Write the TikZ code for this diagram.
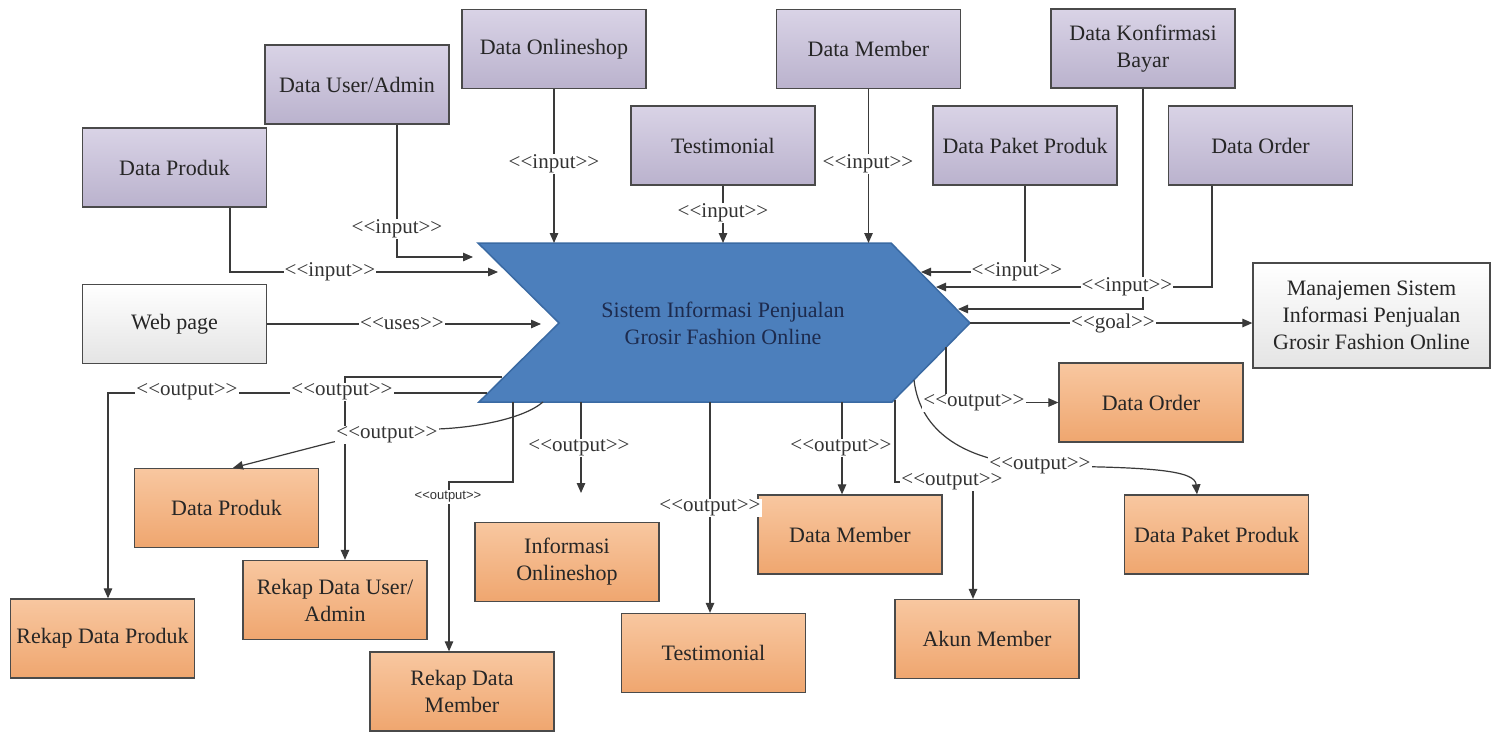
\documentclass[tikz,border=0pt]{standalone}
\usepackage{fontspec}
\setmainfont{Liberation Serif}[Ligatures=TeXOff]
\newfontfamily\dgTinySans{Liberation Sans}[Ligatures=TeXOff]
\usetikzlibrary{arrows.meta}

\definecolor{lineC}{HTML}{3A3A3A}
\definecolor{boxLine}{HTML}{4A4A4A}
\definecolor{boxText}{HTML}{262626}
\definecolor{lblC}{HTML}{333333}
\definecolor{inTop}{HTML}{D9D3E6}
\definecolor{inBot}{HTML}{BAB2CD}
\definecolor{outTop}{HTML}{F8C7A0}
\definecolor{outBot}{HTML}{EFA66F}
\definecolor{plainBot}{HTML}{E4E4E4}
\definecolor{chevFill}{HTML}{4C7FBC}
\definecolor{chevLine}{HTML}{3A6AA3}
\definecolor{chevText}{HTML}{1D2B4E}

\newcommand\dgBoxFont{\fontsize{22}{27}\selectfont}
\newcommand\dgLblFont{\fontsize{21}{23}\selectfont}
\newcommand\dgSmallFont{\dgTinySans\fontsize{13}{14}\selectfont}

\begin{document}
\begin{tikzpicture}[x=1pt,y=-1pt,
  box/.style={draw=boxLine, line width=1.3pt, minimum width=184pt, minimum height=79pt,
              align=center, font=\dgBoxFont, text=boxText, inner sep=2pt},
  inbox/.style={box, top color=inTop, bottom color=inBot},
  outbox/.style={box, top color=outTop, bottom color=outBot},
  plainbox/.style={box, top color=white, bottom color=plainBot},
  conn/.style={draw=lineC, line width=1.2pt},
  arr/.style={conn, -{Triangle[length=10pt,width=8.5pt]}},
  lbl/.style={fill=white, inner sep=1pt, font=\dgLblFont, text=lblC},
  tinylbl/.style={fill=white, inner sep=1pt, font=\dgSmallFont, text=lblC},
]
% canvas
\fill[white] (0,0) rectangle (1494,731);
\useasboundingbox (0,0) rectangle (1494,731);

% ---------- input data stores ----------
\node[inbox] (inProduk) at (174.5,167.5) {Data Produk};
\node[inbox] (inUser)   at (357,84.5)    {Data User/Admin};
\node[inbox] (inOnline) at (554,49)      {Data Onlineshop};
\node[inbox] (inTesti)  at (723,145.5)   {Testimonial};
\node[inbox] (inMember) at (868.5,49)    {Data Member};
\node[inbox] (inPaket)  at (1025,145.5)  {Data Paket Produk};
\node[inbox] (inKonf)   at (1143,48.5)   {Data Konfirmasi\\Bayar};
\node[inbox] (inOrder)  at (1260.5,145.5){Data Order};

% ---------- plain boxes ----------
\node[plainbox] (web)  at (174.5,324) {Web page};
\node[plainbox, minimum width=237pt, minimum height=105pt] (goal) at (1371.5,315.5)
  {Manajemen Sistem\\Informasi Penjualan\\Grosir Fashion Online};

% ---------- output data ----------
\node[outbox] (outOrder)    at (1151,402.5) {Data Order};
\node[outbox] (outPaket)    at (1216.5,534.5) {Data Paket Produk};
\node[outbox] (outAkun)     at (987,639)    {Akun Member};
\node[outbox] (outMember)   at (850,534.5)  {Data Member};
\node[outbox] (outTesti)    at (713.5,653)  {Testimonial};
\node[outbox] (outInfo)     at (567,562)    {Informasi\\Onlineshop};
\node[outbox] (outRMember)  at (462,691.5)  {Rekap Data\\Member};
\node[outbox] (outRUser)    at (335,600)    {Rekap Data User/\\Admin};
\node[outbox] (outRProduk)  at (102.5,638.5){Rekap Data Produk};
\node[outbox] (outProduk)   at (226.5,508)  {Data Produk};

% ---------- central process (chevron) ----------
\coordinate (ctl) at (478,243);
\coordinate (ctr) at (891,243);
\coordinate (ctip) at (970,323);
\coordinate (cbr) at (892,402);
\coordinate (cbl) at (479,402);
\coordinate (cnotch) at (559,323);
\filldraw[fill=chevFill, draw=chevLine, line width=1.5pt]
  (ctl) -- (ctr) -- (ctip) -- (cbr) -- (cbl) -- (cnotch) -- cycle;
\node[font=\dgBoxFont, text=chevText, align=center] (sys) at (723,323)
  {Sistem Informasi Penjualan\\Grosir Fashion Online};

% connector ends on the chevron
\coordinate (sIn1) at (498,272);
\coordinate (sIn2) at (473,257);
\coordinate (sIn6) at (921,272);
\coordinate (sIn7) at (936,287);
\coordinate (sIn8) at (958,309);
\coordinate (sUses) at (541,324);
\coordinate (sOutOrder) at (946,347);
\coordinate (sOutPaket) at (914,380);
\coordinate (sOutAkun) at (895,400);
\coordinate (kAkun) at (895,482);
\coordinate (sOutMember) at (842,402);
\coordinate (sOutTesti) at (710,402);
\coordinate (sOutInfo) at (581,402);
\coordinate (eOutInfo) at (581,493);
\coordinate (sOutRMember) at (513,402);
\coordinate (kRMember) at (449,482);
\coordinate (sOutProduk) at (543,402);
\coordinate (sOutRUser) at (502,377);
\coordinate (sOutRProduk) at (487,393);

% ---------- inputs ----------
\draw[arr] ([xshift=55.5pt]inProduk.south) |- (sIn1);
\draw[arr] ([xshift=40pt]inUser.south) |- (sIn2);
\draw[arr] (inOnline.south) -- (inOnline.south |- ctl);
\draw[arr] (inTesti.south) -- (inTesti.south |- ctl);
\draw[arr] (inMember.south) -- (inMember.south |- ctl);
\draw[arr] (inPaket.south) |- (sIn6);
\draw[arr] ([xshift=-48.5pt]inOrder.south) |- (sIn7);
\draw[arr] (inKonf.south) |- (sIn8);
\draw[arr] (web.east |- sUses) -- (sUses);
\draw[arr] (ctip) -- (ctip -| goal.west);

% ---------- outputs ----------
\draw[arr] (sOutOrder) |- (outOrder.west);
\draw[arr] (sOutPaket) .. controls (920,432) and (965,462) .. (1040,466)
  .. controls (1150,467) and (1195,470) .. ([xshift=-19.5pt]outPaket.north);
\draw[arr] (sOutAkun) -- (kAkun) -| ([xshift=-14pt]outAkun.north);
\draw[arr] (sOutMember) -- (sOutMember |- outMember.north);
\draw[arr] (sOutTesti) -- (sOutTesti |- outTesti.north);
\draw[arr] (sOutInfo) -- (eOutInfo);
\draw[arr] (sOutRMember) |- (kRMember) -- (kRMember |- outRMember.north);
\draw[arr] (sOutProduk) .. controls (522,420) and (470,428) .. (437,429)
  -- (333,442) -- ([xshift=6.5pt]outProduk.north);
\draw[arr] (sOutRUser) -| ([xshift=10pt]outRUser.north);
\draw[arr] (sOutRProduk) -| ([xshift=5.5pt]outRProduk.north);

% ---------- stereotype labels ----------
\node[lbl] (lIn1) at (330,272) {<<input>>};
\node[lbl] (lIn2) at (397,229) {<<input>>};
\node[lbl] (lIn3) at (554,164) {<<input>>};
\node[lbl] (lIn4) at (723,213) {<<input>>};
\node[lbl] (lIn5) at (868,164) {<<input>>};
\node[lbl] (lIn6) at (1017,272) {<<input>>};
\node[lbl] (lIn7) at (1127,287) {<<input>>};
\node[lbl] (lUses) at (402,324) {<<uses>>};
\node[lbl] (lGoal) at (1113,323) {<<goal>>};
\node[lbl] (lOut1) at (974,403) {<<output>>};
\node[lbl] (lOut2) at (1040,466) {<<output>>};
\node[lbl] (lOut3) at (952,482) {<<output>>};
\node[lbl] (lOut4) at (841,448) {<<output>>};
\node[lbl] (lOut5) at (710,508) {<<output>>};
\node[lbl] (lOut6) at (579,448) {<<output>>};
\node[tinylbl] (lOut7) at (448,497) {<<output>>};
\node[lbl] (lOut8) at (387,435) {<<output>>};
\node[lbl] (lOut9) at (342,392) {<<output>>};
\node[lbl] (lOut10) at (187,392) {<<output>>};
\end{tikzpicture}
\end{document}
